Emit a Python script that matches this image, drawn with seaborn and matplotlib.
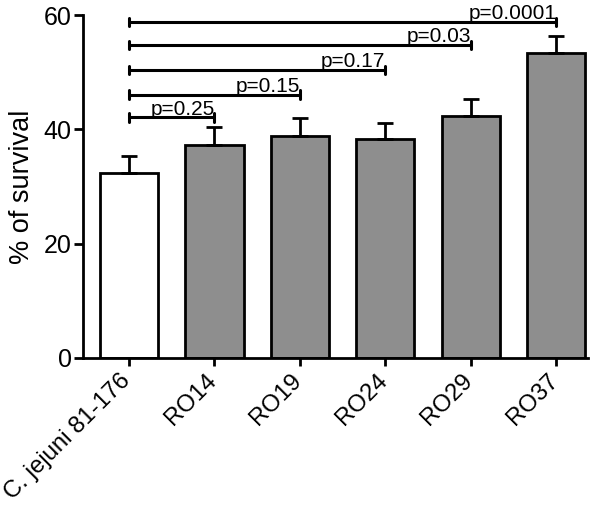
import numpy as np
import pandas as pd
import matplotlib
matplotlib.use('Agg')
import matplotlib.pyplot as plt
import matplotlib.transforms as mtransforms
import seaborn as sns

# data
strains = ['C. jejuni 81-176', 'RO14', 'RO19', 'RO24', 'RO29', 'RO37']
survival = [32.4, 37.3, 38.8, 38.4, 42.3, 53.3]
sem = [3.0, 3.1, 3.2, 2.8, 3.0, 3.0]
bar_colors = ['#ffffff', '#8e8e8e', '#8e8e8e', '#8e8e8e', '#8e8e8e', '#8e8e8e']

# comparisons vs. wild type: (target index, bracket height, label)
comp_target = [1, 2, 3, 4, 5]
comp_height = [42.1, 46.1, 50.4, 54.8, 58.8]
comp_label = ['p=0.25', 'p=0.15', 'p=0.17', 'p=0.03', 'p=0.0001']

df = pd.DataFrame({'strain': strains, 'survival': survival})

sns.set_style('ticks')
plt.rcParams['font.family'] = ['Liberation Sans', 'DejaVu Sans']
plt.rcParams['text.color'] = 'black'
plt.rcParams['axes.labelcolor'] = 'black'
plt.rcParams['xtick.color'] = 'black'
plt.rcParams['ytick.color'] = 'black'
plt.rcParams['axes.edgecolor'] = 'black'

fig = plt.figure(figsize=(6.0, 5.07), dpi=100)
ax = fig.add_axes([0.138, 0.294, 0.842, 0.676])

sns.barplot(data=df, x='strain', y='survival', hue='strain', palette=bar_colors,
            legend=False, width=0.68, edgecolor='black', linewidth=2, saturation=1,
            ax=ax)

x = np.arange(len(strains))
ax.errorbar(x, survival, yerr=[np.zeros(len(sem)), sem], fmt='none',
            ecolor='black', elinewidth=2, capsize=5.8, capthick=2, zorder=1)

for t, h, lab in zip(comp_target, comp_height, comp_label):
    ax.plot([0, t], [h, h], color='black', lw=2.2, clip_on=False, zorder=5)
    for xx in (0, t):
        ax.plot([xx, xx], [h - 0.75, h + 0.75], color='black', lw=2.2,
                clip_on=False, zorder=5)
    ax.text(t, h + 0.45, lab, ha='right', va='baseline', fontsize=15,
            clip_on=False, zorder=6)

ax.set_ylim(0, 60)
ax.set_xlim(-0.54, 5.37)
ax.set_yticks([0, 20, 40, 60])
ax.set_xlabel('')
ax.set_ylabel('% of survival', fontsize=19.5, labelpad=6)
ax.tick_params(axis='y', labelsize=18, width=2, length=6.5, pad=1.5, direction='out')
ax.tick_params(axis='x', labelsize=17.3, width=2, length=6, pad=2, direction='out')
shift = mtransforms.ScaledTranslation(6 / 100, -1 / 100, fig.dpi_scale_trans)
for lbl in ax.get_xticklabels():
    lbl.set_rotation(45)
    lbl.set_ha('right')
    lbl.set_transform(lbl.get_transform() + shift)
for s in ['left', 'bottom']:
    ax.spines[s].set_linewidth(2)
sns.despine(ax=ax)

fig.savefig('out.png', dpi=100)
